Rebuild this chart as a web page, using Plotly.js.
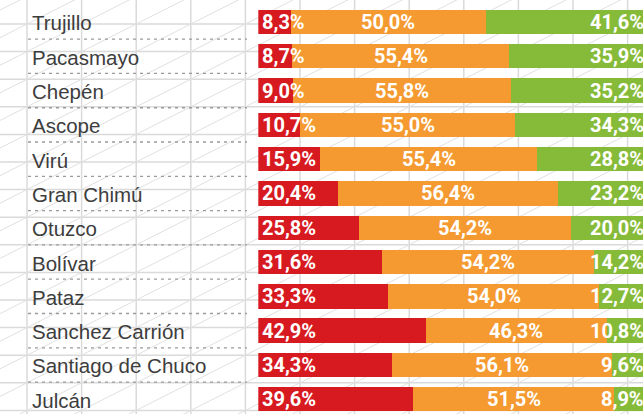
<!DOCTYPE html>
<html>
<head>
<meta charset="utf-8">
<script src="https://cdn.plot.ly/plotly-3.0.1.min.js"></script>
<style>html,body{margin:0;padding:0;background:#fff;}#chart{width:643px;height:414px;}</style>
</head>
<body>
<div id="chart"></div>
<script>
// ---- data ----
const provinces = ["Trujillo","Pacasmayo","Chepén","Ascope","Virú","Gran Chimú","Otuzco","Bolívar","Pataz","Sanchez Carrión","Santiago de Chuco","Julcán"];
const redValues = [8.3, 8.7, 9.0, 10.7, 15.9, 20.4, 25.8, 31.6, 33.3, 42.9, 34.3, 39.6];
const orangeValues = [50.0, 55.4, 55.8, 55.0, 55.4, 56.4, 54.2, 54.2, 54.0, 46.3, 56.1, 51.5];
const greenValues = [41.6, 35.9, 35.2, 34.3, 28.8, 23.2, 20.0, 14.2, 12.7, 10.8, 9.6, 8.9];

// ---- styles / layout constants ----
const W = 643, H = 414;
const RED = "#d71920", ORANGE = "#f59a30", GREEN = "#86bb3a";
const xMax = 98.46;
const fmt = v => v.toFixed(1).replace(".", ",") + "%";
const px = x => x / W;           // pixel -> paper x
const py = y => 1 - y / H;       // pixel -> paper y

const common = {type: "bar", orientation: "h", y: provinces, hoverinfo: "skip"};
const traces = [
  Object.assign({}, common, {x: redValues, marker: {color: RED, line: {width: 0}}}),
  Object.assign({}, common, {x: orangeValues, marker: {color: ORANGE, line: {width: 0}}}),
  Object.assign({}, common, {x: greenValues, marker: {color: GREEN, line: {width: 0}}})
];

const shapes = [];
// background graph-paper grid
const gridCol = "#dadada", diagCol = "#e0e0e0";
const dx = 54.6, dy = 27.6, x0 = 27, y0 = 24;
for (let k = 0; x0 + dx * k < W; k++) {
  const xp = x0 + dx * k;
  shapes.push({type: "line", xref: "paper", yref: "paper", x0: px(xp), x1: px(xp), y0: 0, y1: 1, layer: "below", line: {color: gridCol, width: 1.5}});
}
for (let m = 0; y0 + dy * m < H; m++) {
  const yp = y0 + dy * m;
  shapes.push({type: "line", xref: "paper", yref: "paper", x0: 0, x1: 1, y0: py(yp), y1: py(yp), layer: "below", line: {color: gridCol, width: 1.5}});
}
const slope = dy / dx;
for (let n = -2; n < 30; n++) {
  const c = y0 + slope * x0 + dy * n;
  shapes.push({type: "line", xref: "paper", yref: "paper", x0: 0, y0: py(c), x1: 1, y1: py(c - slope * W), layer: "below", line: {color: diagCol, width: 1}});
}
// dotted separators under the labels
for (let i = 0; i < provinces.length - 1; i++) {
  shapes.push({type: "line", xref: "paper", yref: "y", x0: px(28), x1: px(247), y0: i + 0.5, y1: i + 0.5, layer: "below", line: {color: "#9a9a9a", width: 1.3, dash: "3px,4px"}});
}

const annotations = [];
const valFont = {family: "Roboto, 'Liberation Sans', Arial, sans-serif", size: 20, color: "#ffffff", weight: "bold"};
provinces.forEach((p, i) => {
  annotations.push({xref: "paper", yref: "y", x: px(30), y: p, text: p, showarrow: false, xanchor: "left", yanchor: "middle", yshift: -1,
    font: {family: "'Liberation Sans', Arial, sans-serif", size: 20.5, color: "#3d3d3d"}});
  annotations.push({xref: "x", yref: "y", x: 0, y: p, text: fmt(redValues[i]), showarrow: false, xanchor: "left", xshift: 2, yanchor: "middle", font: valFont});
  annotations.push({xref: "x", yref: "y", x: redValues[i] + orangeValues[i] / 2, y: p, text: fmt(orangeValues[i]), showarrow: false, xanchor: "center", yanchor: "middle", font: valFont});
  annotations.push({xref: "x", yref: "y", x: xMax, y: p, text: fmt(greenValues[i]), showarrow: false, xanchor: "right", xshift: 3, yanchor: "middle", font: valFont});
});

const layout = {
  width: W, height: H,
  margin: {l: 0, r: 0, t: 0, b: 0, pad: 0},
  barmode: "stack",
  bargap: 0.29,
  showlegend: false,
  paper_bgcolor: "#ffffff",
  plot_bgcolor: "rgba(0,0,0,0)",
  xaxis: {domain: [258.3 / W, 1], range: [0, xMax], visible: false, fixedrange: true},
  yaxis: {type: "category", range: [11.43, -0.641], visible: false, fixedrange: true},
  shapes: shapes,
  annotations: annotations
};

Plotly.newPlot("chart", traces, layout, {displayModeBar: false, staticPlot: true});
</script>
</body>
</html>
